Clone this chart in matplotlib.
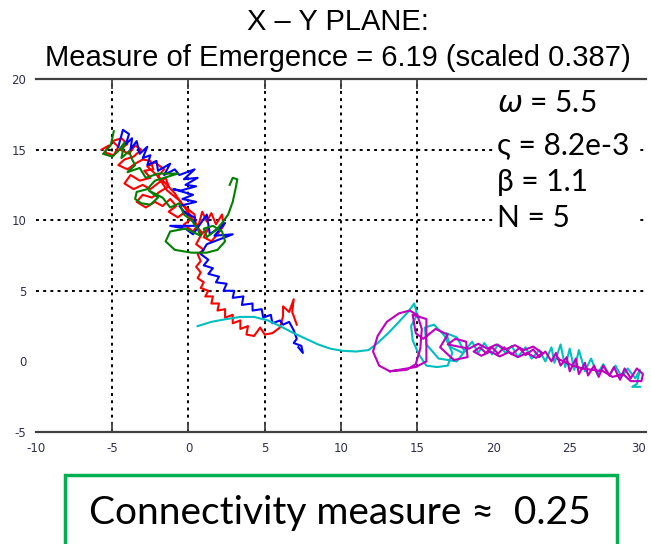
import matplotlib
matplotlib.use('Agg')
import matplotlib.pyplot as plt
from matplotlib.patches import Rectangle

# trajectories in the x-y plane
red_xy = [(-5.7, 15.0), (-5.2, 15.3), (-5.5, 14.8), (-4.9, 14.6), (-4.6, 15.2), (-5.0, 15.6),
          (-4.4, 15.8), (-4.0, 15.4), (-4.5, 15.0), (-3.9, 14.7), (-3.5, 15.3), (-3.1, 15.0),
          (-3.6, 14.5), (-4.2, 14.3), (-4.6, 13.9), (-4.0, 13.6), (-3.5, 14.0), (-3.0, 14.3),
          (-2.5, 14.2), (-2.3, 13.6), (-2.9, 13.5), (-2.5, 13.0), (-3.2, 12.8), (-3.8, 13.2),
          (-4.2, 12.6), (-3.6, 12.2), (-3.0, 12.5), (-2.5, 12.2), (-1.9, 12.7), (-1.5, 13.0),
          (-1.3, 12.4), (-1.9, 12.0), (-2.4, 11.6), (-3.0, 11.8), (-3.4, 11.3), (-2.8, 10.9),
          (-2.2, 11.3), (-1.7, 11.0), (-1.2, 11.5), (-0.8, 11.0), (-1.3, 10.6), (-0.7, 10.2),
          (-0.2, 10.6), (0.2, 10.1), (-0.3, 9.7), (0.3, 9.2), (0.7, 9.8), (0.9, 10.6),
          (1.2, 9.9), (1.5, 10.5), (1.8, 9.7), (2.2, 10.4), (2.3, 9.6), (1.9, 9.0),
          (1.5, 8.5), (1.0, 8.8), (1.3, 9.4), (0.8, 9.0), (0.1, 10.4), (-0.6, 11.4),
          (-1.4, 12.1), (-2.0, 13.1), (-1.6, 13.6), (-2.2, 14.1), (-2.7, 13.8), (-2.1, 13.2),
          (-1.5, 12.6), (-0.9, 11.9), (-0.4, 11.1), (0.4, 10.4), (0.5, 9.6), (0.9, 9.1),
          (0.5, 8.3), (1.0, 7.9),
          (0.6, 7.6), (0.8, 7.1), (0.5, 6.7), (0.8, 6.3), (0.6, 5.9), (1.0, 5.6),
          (0.8, 5.2), (1.3, 5.0), (1.1, 4.6), (1.6, 4.6), (1.5, 4.1), (2.0, 4.1),
          (1.9, 3.6), (2.4, 3.7), (2.4, 3.1), (2.9, 3.3), (2.9, 2.7), (3.4, 2.9),
          (3.4, 2.3), (3.9, 2.5), (3.8, 1.9), (4.3, 1.8), (4.7, 2.4), (5.0, 1.9),
          (5.5, 2.0), (6.0, 2.4), (6.2, 3.2), (6.2, 3.9), (6.6, 3.5), (6.9, 4.4),
          (6.8, 3.5), (7.1, 2.6)]

blue_xy = [(-4.6, 15.2), (-4.3, 16.4), (-3.9, 16.1), (-4.1, 15.4), (-3.7, 15.8), (-3.8, 15.0),
           (-3.4, 15.6), (-3.2, 14.7), (-2.7, 15.2), (-3.0, 14.4), (-2.5, 14.6), (-2.7, 13.9),
           (-2.1, 14.2), (-2.0, 13.5), (-1.2, 14.0), (-1.6, 13.2), (-0.9, 13.6), (-0.6, 13.2),
           (0.4, 13.6), (-0.3, 12.9), (0.6, 13.0), (-0.2, 12.5), (0.5, 12.4), (-0.5, 12.1),
           (-1.0, 12.2), (0.3, 11.8), (-0.4, 11.5), (0.5, 11.3), (-0.6, 11.0), (-0.2, 10.5),
           (0.4, 10.2), (0.4, 9.6), (-1.2, 9.6), (-0.2, 9.4), (0.3, 9.0), (1.2, 10.4),
           (1.4, 9.0), (2.4, 9.8), (1.7, 8.9), (2.9, 9.0), (1.2, 8.3), (0.8, 7.6),
           (1.3, 7.2), (1.0, 6.8), (1.6, 6.6), (1.3, 6.2), (2.0, 6.0), (1.8, 5.6),
           (2.5, 5.5), (2.3, 5.0), (3.0, 5.0), (2.9, 4.5), (3.6, 4.6), (3.5, 4.0),
           (4.2, 4.1), (4.2, 3.6), (4.8, 3.7), (4.9, 3.1), (5.4, 3.3), (5.5, 2.7),
           (6.0, 2.9), (6.2, 2.6), (6.6, 2.8), (6.9, 2.2), (7.1, 1.6), (6.9, 1.3),
           (7.4, 1.1), (7.5, 0.6), (7.2, 1.0)]

green_xy = [(-4.9, 16.3), (-5.1, 15.3), (-5.6, 14.7), (-5.0, 14.5), (-4.6, 14.9), (-4.2, 15.5),
            (-4.4, 14.4), (-3.9, 14.9), (-3.7, 14.3), (-3.5, 13.9), (-4.0, 13.4), (-3.2, 13.7),
            (-2.8, 13.0), (-2.0, 13.3), (-0.7, 13.3), (-2.2, 12.8), (-2.7, 12.2), (-3.4, 12.0),
            (-3.5, 11.5), (-3.1, 11.2), (-2.5, 11.1), (-2.0, 11.6), (-2.6, 12.1), (-1.7, 11.6),
            (-1.2, 10.9), (-0.6, 11.2), (-0.3, 10.4), (0.2, 10.0), (0.6, 9.4), (0.8, 8.9),
            (-0.2, 9.4), (-1.2, 9.2), (-1.5, 8.5), (-0.9, 7.9), (0.2, 7.7), (1.2, 7.7),
            (1.9, 7.9), (2.4, 8.5), (2.2, 9.2), (1.6, 9.6), (1.0, 9.4), (1.2, 8.8),
            (1.8, 9.3), (2.2, 9.8), (2.6, 10.4), (2.9, 11.3), (3.1, 12.3), (3.2, 12.9),
            (2.9, 13.0), (2.7, 12.5)]

cyan_xy = [(0.6, 2.5), (1.5, 2.8), (2.5, 3.0), (3.4, 3.15), (4.3, 3.15), (5.2, 2.9),
           (6.0, 2.5), (6.9, 2.0), (7.7, 1.6), (8.5, 1.2), (9.3, 0.9), (10.1, 0.75),
           (11.0, 0.7), (11.8, 0.8), (12.4, 1.3), (13.1, 2.0), (13.8, 2.8), (14.4, 3.5),
           (14.8, 4.1), (15.0, 3.3), (14.6, 2.5), (14.7, 1.5), (15.1, 0.5), (15.6, -0.3),
           (16.3, -0.4), (17.0, -0.3), (17.3, 0.6), (16.8, 1.8), (16.1, 2.6), (15.5, 2.4),
           (15.6, 1.2), (16.4, 0.2), (17.6, 0.0), (18.1, 0.7), (17.6, 1.7), (16.9, 2.0),
           (17.2, 1.0), (18.0, 0.6), (18.6, 1.4), (19.0, 0.6), (19.4, 1.3), (19.9, 0.5),
           (20.3, 1.2), (20.8, 0.6), (21.2, 1.1), (21.6, 0.3), (22.1, 1.0), (22.5, 0.2),
           (23.0, 0.8), (23.4, 0.0), (23.8, 1.0), (24.0, -0.1), (24.4, 1.2), (24.7, -0.4),
           (25.0, 0.9), (25.3, -0.6), (25.6, 0.8), (26.0, -0.7), (26.4, 0.2), (26.8, -0.9),
           (27.2, -0.2), (27.6, -1.0), (28.0, -0.3), (28.4, -1.1), (28.8, -0.5), (29.3, -1.2),
           (29.6, -0.6), (29.4, -1.6), (29.1, -1.8), (29.6, -1.8)]

magenta_xy = [(13.2, -0.7), (12.5, -0.3), (12.1, 0.7), (12.4, 1.8), (13.0, 2.8), (13.8, 3.4),
              (14.5, 3.6), (15.0, 3.3), (15.3, 2.3), (15.2, 0.9), (14.9, -0.2), (14.3, -0.6),
              (13.2, -0.7), (14.9, -0.4), (15.6, 0.0), (15.6, 3.0), (14.7, 3.3), (14.9, 2.0),
              (15.4, 1.6), (16.2, 2.3), (17.0, 1.9), (16.5, 1.0), (17.4, 0.1), (18.3, 0.3),
              (18.2, 1.4), (17.5, 1.6), (17.0, 1.2), (18.4, 0.9), (19.0, 1.25), (19.6, 0.9),
              (20.2, 1.2), (20.8, 0.85), (21.4, 1.15), (22.0, 0.8), (22.6, 1.05), (23.2, 0.6),
              (22.8, 0.25), (22.2, 0.6), (21.6, 0.3), (21.0, 0.65), (20.4, 0.35), (19.8, 0.7),
              (19.2, 0.4), (18.7, 0.7), (19.1, 1.0), (19.5, 0.6), (19.9, 1.0), (20.3, 0.55),
              (20.7, 1.0), (21.2, 0.5), (21.7, 0.95), (22.1, 0.45), (22.6, 0.85), (23.0, 0.3),
              (23.4, 0.7), (23.8, 0.0), (24.1, 0.6), (24.4, -0.3), (24.8, 0.3), (25.0, -0.7),
              (25.4, 0.2), (25.6, -0.9), (26.0, -0.1), (26.2, -1.0), (26.6, -0.3), (26.9, -1.1),
              (27.2, -0.3), (27.6, -1.0), (27.9, -0.4), (28.3, -1.3), (28.6, -0.5), (29.0, -1.2),
              (29.4, -0.5), (29.8, -0.9), (29.7, -1.4), (29.0, -1.4), (28.5, -0.9), (27.8, -1.1),
              (27.2, -0.7), (26.5, -0.6), (25.8, -0.5), (25.0, -0.2), (24.2, 0.2)]

x_ticks = [-10, -5, 0, 5, 10, 15, 20, 25, 30]
y_ticks = [-5, 0, 5, 10, 15, 20]
x_grid = [-5, 0, 5, 10, 15]
y_grid = [5, 10, 15]

title_lines = ["X \u2013 Y PLANE:", "Measure of Emergence = 6.19 (scaled 0.387)"]
param_lines = ["$\\omega$ = 5.5", "\u03c2 = 8.2e-3", "\u03b2 = 1.1", "N = 5"]
connectivity = "Connectivity measure \u2248  0.25"

series = [(red_xy, 'red'), (blue_xy, 'blue'), (green_xy, '#008000'),
          (cyan_xy, '#00bfbf'), (magenta_xy, '#bf00bf')]

fig = plt.figure(figsize=(6.51, 5.44), dpi=100)
ax = fig.add_axes([0.0553, 0.2059, 0.937, 0.6489])

for xy, col in series:
    xs = [p[0] for p in xy]
    ys = [p[1] for p in xy]
    ax.plot(xs, ys, color=col, lw=1.5, zorder=3)

ax.set_xlim(-10, 30)
ax.set_ylim(-5, 20)

# labels on the major ticks, marks and grid on the minor ones
ax.xaxis.remove_overlapping_locs = False
ax.yaxis.remove_overlapping_locs = False
ax.set_xticks(x_ticks)
ax.set_xticklabels([str(t) for t in x_ticks])
ax.set_yticks(y_ticks)
ax.set_yticklabels([str(t) for t in y_ticks])
ax.set_xticks(x_grid, minor=True)
ax.set_yticks(y_grid, minor=True)
ax.tick_params(which='major', length=0, labelsize=8.5, labelcolor='#30304a', pad=7)
ax.tick_params(axis='x', which='minor', direction='in', length=7, width=1.3,
               color='#404040', top=True, bottom=True)
ax.tick_params(axis='y', which='minor', length=0)
ax.grid(which='minor', color='black', linestyle=(0, (1.5, 2.2)), linewidth=1.4)
# last label sits on the right edge of the picture
ax.get_xticklabels()[-1].set_horizontalalignment('right')

for s in ['left', 'right']:
    ax.spines[s].set_visible(False)
for s in ['top', 'bottom']:
    ax.spines[s].set_color('#404040')
    ax.spines[s].set_linewidth(1.6)

# white block behind the parameter text
ax.add_patch(Rectangle((0.752, 0.555), 0.238, 0.43, transform=ax.transAxes,
                       facecolor='white', edgecolor='none', zorder=4))
for txt, yy in zip(param_lines, [0.932, 0.813, 0.708, 0.606]):
    ax.text(0.756, yy, txt, transform=ax.transAxes, fontsize=21.5,
            family=['Lato', 'DejaVu Sans'], va='center', ha='left', zorder=5)

fig.text(0.519, 0.9596, title_lines[0], fontsize=21, family='Liberation Sans',
         ha='center', va='center')
fig.text(0.519, 0.8934, title_lines[1], fontsize=21, family='Liberation Sans',
         ha='center', va='center')

fig.patches.append(Rectangle((0.0998, -0.05), 0.848, 0.177, transform=fig.transFigure,
                             facecolor='white', edgecolor='#00b050', linewidth=2.5))
fig.text(0.522, 0.057, connectivity, fontsize=28, family=['Lato', 'DejaVu Sans'],
         ha='center', va='center')

plt.savefig('out.png', dpi=100)
